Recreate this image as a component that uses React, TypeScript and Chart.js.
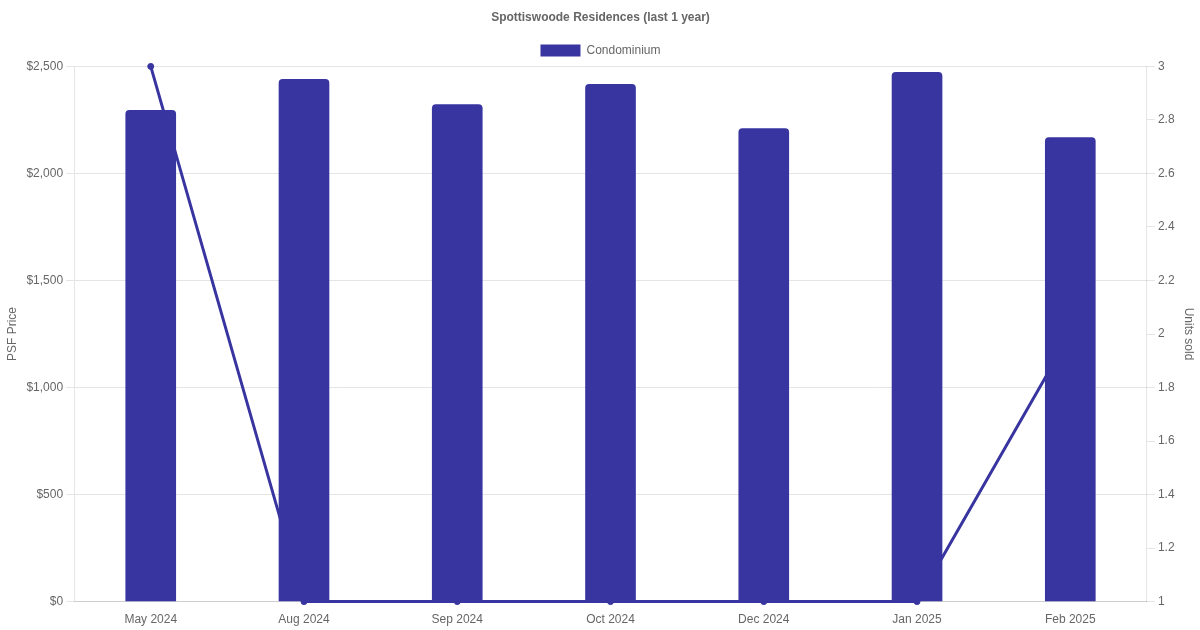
import React, { useEffect, useRef } from "react";
import { Chart, registerables } from "chart.js";

Chart.register(...registerables);

const categories = ["May 2024", "Aug 2024", "Sep 2024", "Oct 2024", "Dec 2024", "Jan 2025", "Feb 2025"];
const psfPrice = [2295, 2440, 2322, 2416, 2210, 2472, 2168];
const unitsSold = [3, 1, 1, 1, 1, 1, 2];

const COLOR = "#3935a0";

export default function App() {
  const ref = useRef<HTMLCanvasElement | null>(null);

  useEffect(() => {
    if (!ref.current) return;
    Chart.defaults.font.family = "'Liberation Sans', Arial, Helvetica, sans-serif";
    Chart.defaults.color = "#666";
    const chart = new Chart(ref.current, {
      type: "bar",
      data: {
        labels: categories,
        datasets: [
          {
            type: "bar",
            label: "Condominium",
            data: psfPrice,
            backgroundColor: COLOR,
            borderColor: COLOR,
            borderRadius: 4,
            borderSkipped: "bottom",
            barThickness: 50,
            yAxisID: "y",
          },
          {
            type: "line",
            label: "Units",
            data: unitsSold,
            borderColor: COLOR,
            backgroundColor: COLOR,
            borderWidth: 3,
            pointRadius: 3,
            pointBorderWidth: 1,
            fill: false,
            tension: 0,
            yAxisID: "y1",
          },
        ],
      },
      options: {
        animation: false,
        responsive: false,
        maintainAspectRatio: false,
        layout: { padding: { left: 1 } },
        plugins: {
          title: {
            display: true,
            text: "Spottiswoode Residences (last 1 year)",
            font: { size: 12, weight: "bold" },
            color: "#666",
          },
          legend: {
            display: true,
            labels: {
              filter: (item) => item.text === "Condominium",
              color: "#666",
            },
          },
          tooltip: { enabled: false },
        },
        scales: {
          x: {
            grid: { display: false },
            ticks: { color: "#666" },
          },
          y: {
            position: "left",
            beginAtZero: true,
            ticks: {
              stepSize: 500,
              color: "#666",
              callback: (v) => "$" + Number(v).toLocaleString("en-US"),
            },
            title: { display: true, text: "PSF Price", color: "#666" },
          },
          y1: {
            position: "right",
            beginAtZero: false,
            ticks: {
              stepSize: 0.2,
              color: "#666",
              callback: (v) => String(Math.round(Number(v) * 10) / 10),
            },
            grid: { drawOnChartArea: false },
            title: { display: true, text: "Units sold", color: "#666" },
          },
        },
      },
    });
    return () => chart.destroy();
  }, []);

  return (
    <div style={{ position: "absolute", left: 0, top: 0, width: 1200, height: 630, background: "#fff" }}>
      <canvas ref={ref} width={1200} height={630} />
    </div>
  );
}
